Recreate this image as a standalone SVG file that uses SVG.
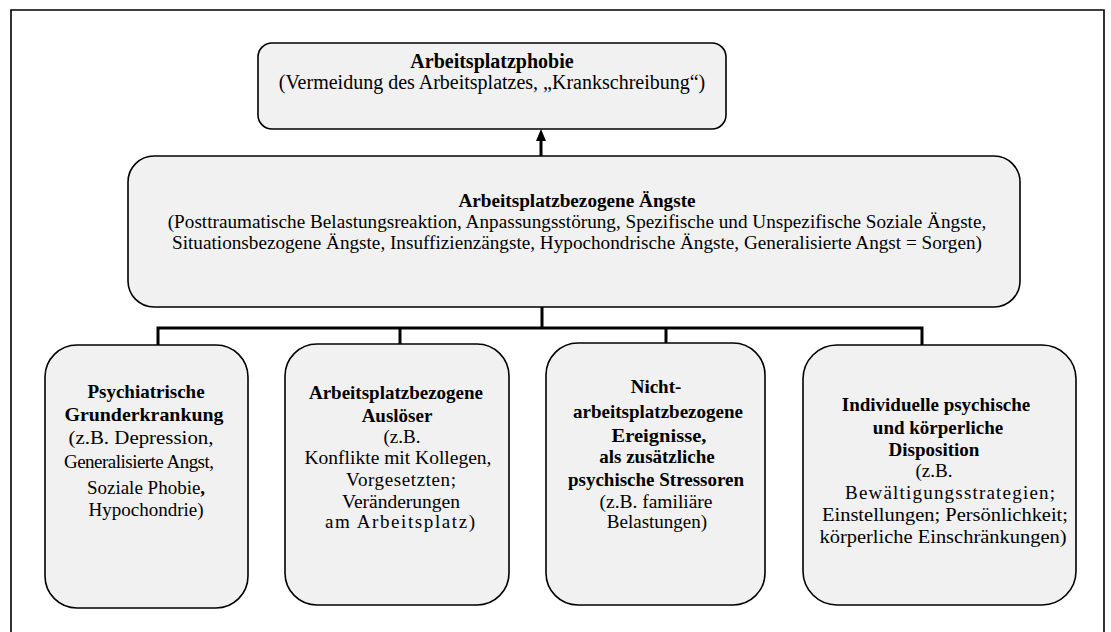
<svg xmlns="http://www.w3.org/2000/svg" width="1111" height="632" viewBox="0 0 1111 632">
<defs>
<style>
.box{fill:#f1f1f1;stroke:#000;stroke-width:1.6}
.t{font-size:20px;fill:#000;text-anchor:middle}
.m{font-size:19.2px;fill:#000;text-anchor:middle}
.s{font-size:19px;fill:#000;text-anchor:middle}
.b{font-weight:bold}
.conn{fill:none;stroke:#000;stroke-width:3}
</style>
</defs>
<rect x="0" y="0" width="1111" height="632" fill="#fff"/>
<path d="M11,640 L11,10 L1104,10 L1104,640" fill="none" stroke="#000" stroke-width="1.6"/>

<g id="connectors">
<line class="conn" x1="541" y1="156" x2="541" y2="139"/>
<path d="M541,129 L546,141 L536,141 Z" fill="#000"/>
<polyline class="conn" points="542,307 542,328"/>
<polyline class="conn" points="158,345 158,328 922,328 922,345"/>
<line class="conn" x1="400" y1="328" x2="400" y2="344"/>
<line class="conn" x1="666" y1="328" x2="666" y2="343"/>
</g>

<g font-family="Liberation Serif, Tinos, Times New Roman, serif">
<g id="node-phobie">
<rect class="box" x="258" y="43" width="468" height="86" rx="14"/>
<text class="t b" x="492" y="68">Arbeitsplatzphobie</text>
<text class="t" x="492" y="89">(Vermeidung des Arbeitsplatzes, „Krankschreibung“)</text>
</g>

<g id="node-aengste">
<rect class="box" x="128" y="156" width="892" height="151" rx="26"/>
<text class="m b" x="577" y="207">Arbeitsplatzbezogene Ängste</text>
<text class="m" x="577" y="228">(Posttraumatische Belastungsreaktion, Anpassungsstörung, Spezifische und Unspezifische Soziale Ängste,</text>
<text class="m" x="577" y="249">Situationsbezogene Ängste, Insuffizienzängste, Hypochondrische Ängste, Generalisierte Angst = Sorgen)</text>
</g>

<g id="node-psychiatrisch">
<rect class="box" x="45" y="345" width="203" height="263" rx="32"/>
<text class="s b" x="146" y="398">Psychiatrische</text>
<text class="s b" x="144" y="421" textLength="159" lengthAdjust="spacingAndGlyphs">Grunderkrankung</text>
<text class="s" x="141" y="444" textLength="145" lengthAdjust="spacingAndGlyphs">(z.B. Depression,</text>
<text class="s" x="139" y="468" textLength="150" lengthAdjust="spacing">Generalisierte Angst,</text>
<text class="s" x="146" y="494">Soziale Phobie<tspan class="b">,</tspan></text>
<text class="s" x="146" y="516">Hypochondrie)</text>
</g>

<g id="node-ausloeser">
<rect class="box" x="285" y="344" width="224" height="261" rx="32"/>
<text class="s b" x="396" y="399">Arbeitsplatzbezogene</text>
<text class="s b" x="397" y="422">Auslöser</text>
<text class="s" x="402" y="443">(z.B.</text>
<text class="s" x="398" y="464" textLength="187" lengthAdjust="spacingAndGlyphs">Konflikte mit Kollegen,</text>
<text class="s" x="401" y="486" textLength="110" lengthAdjust="spacing">Vorgesetzten;</text>
<text class="s" x="401" y="508" textLength="118" lengthAdjust="spacingAndGlyphs">Veränderungen</text>
<text class="s" x="400" y="528" textLength="150" lengthAdjust="spacing">am Arbeitsplatz)</text>
</g>

<g id="node-nicht">
<rect class="box" x="546" y="343" width="219" height="262" rx="32"/>
<text class="s b" x="656" y="393">Nicht-</text>
<text class="s b" x="658" y="418">arbeitsplatzbezogene</text>
<text class="s b" x="659" y="442" textLength="95" lengthAdjust="spacingAndGlyphs">Ereignisse,</text>
<text class="s b" x="657" y="463">als zusätzliche</text>
<text class="s b" x="656" y="486">psychische Stressoren</text>
<text class="s" x="656" y="508" textLength="113" lengthAdjust="spacingAndGlyphs">(z.B. familiäre</text>
<text class="s" x="657" y="528">Belastungen)</text>
</g>

<g id="node-disposition">
<rect class="box" x="803" y="345" width="273" height="260" rx="34"/>
<text class="s b" x="936" y="411">Individuelle psychische</text>
<text class="s b" x="938" y="434">und körperliche</text>
<text class="s b" x="934" y="456">Disposition</text>
<text class="s" x="934" y="477">(z.B.</text>
<text class="s" x="950" y="499" textLength="210" lengthAdjust="spacing">Bewältigungsstrategien;</text>
<text class="s" x="945" y="521" textLength="246" lengthAdjust="spacingAndGlyphs">Einstellungen; Persönlichkeit;</text>
<text class="s" x="943" y="543" textLength="247" lengthAdjust="spacingAndGlyphs">körperliche Einschränkungen)</text>
</g>
</g>
</svg>
